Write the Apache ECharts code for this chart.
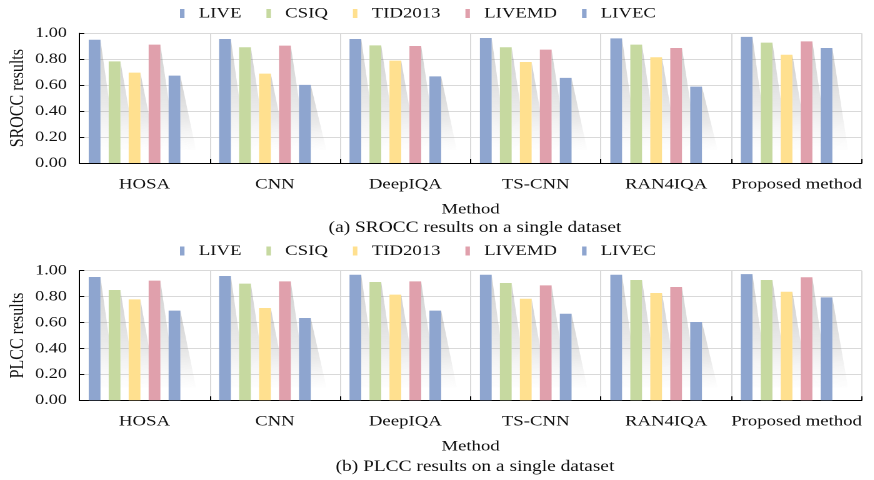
<!DOCTYPE html>
<html>
<head>
<meta charset="utf-8">
<script src="https://cdn.jsdelivr.net/npm/echarts@6/dist/echarts.min.js"></script>
<style>
  html, body { margin: 0; padding: 0; background: #fff; overflow: hidden; }
  #wrap { width: 874px; height: 480px; overflow: hidden; }
  /* the figure is set in a horizontally widened face, so the drawing is stretched on x */
  #chart { width: 699.2px; height: 480px; transform: scaleX(1.25); transform-origin: 0 0; }
</style>
</head>
<body>
<div id="wrap"><div id="chart"></div></div>
<script>
// Methods on the x axis and datasets shown as coloured bars
const categories = ['HOSA', 'CNN', 'DeepIQA', 'TS-CNN', 'RAN4IQA', 'Proposed method'];
const datasets = ['LIVE', 'CSIQ', 'TID2013', 'LIVEMD', 'LIVEC'];
const yTicks = [0, 0.2, 0.4, 0.6, 0.8, 1.0];

// SROCC on a single dataset
const sroccLIVE   = [0.950, 0.956, 0.956, 0.964, 0.961, 0.972];
const sroccCSIQ   = [0.784, 0.892, 0.907, 0.892, 0.913, 0.928];
const sroccTID    = [0.697, 0.689, 0.789, 0.779, 0.815, 0.835];
const sroccLIVEMD = [0.913, 0.905, 0.902, 0.874, 0.887, 0.938];
const sroccLIVEC  = [0.674, 0.602, 0.668, 0.656, 0.589, 0.887];

// PLCC on a single dataset
const plccLIVE   = [0.951, 0.959, 0.969, 0.969, 0.969, 0.974];
const plccCSIQ   = [0.851, 0.900, 0.913, 0.905, 0.928, 0.928];
const plccTID    = [0.779, 0.712, 0.815, 0.784, 0.828, 0.838];
const plccLIVEMD = [0.923, 0.918, 0.918, 0.887, 0.874, 0.949];
const plccLIVEC  = [0.692, 0.635, 0.692, 0.668, 0.604, 0.794];

const colors = ['#8ea5cf', '#c6d9a0', '#ffe08f', '#e0a0ac', '#8ea5cf'];

const FONT = "'Liberation Serif', 'Times New Roman', serif";
const TEXT = '#111';
const BAR_W = 9.4;
const GAP_RATIO = 0.7;
const SLOTS = 6;            // five datasets plus one empty slot on the right of each group
const SHADOW_FOOT = 0.1;    // where the cast shadow fades out
const SHADOW_RUN = 12.5;    // horizontal run of the shadow

const chart = echarts.init(document.getElementById('chart'), null,
  { renderer: 'canvas', devicePixelRatio: 2 });

const grids = [
  { left: 63.44, right: 9.6, top: 33.3, height: 129.7, outerBoundsMode: 'none', containLabel: false },
  { left: 63.44, right: 9.6, top: 270.7, height: 129.6, outerBoundsMode: 'none', containLabel: false }
];

function xAxisFor(gridIndex) {
  return {
    type: 'category', gridIndex, data: categories,
    name: 'Method', nameLocation: 'middle', nameGap: 39, nameMoveOverlap: false,
    nameTextStyle: { fontFamily: FONT, fontSize: 15, color: TEXT },
    axisLine: { lineStyle: { color: '#000', width: 1 } },
    axisTick: { show: true, inside: true, length: 4, lineStyle: { color: '#000' } },
    axisLabel: { fontFamily: FONT, fontSize: 15, color: TEXT, margin: 14, interval: 0 },
    splitLine: { show: true, interval: 0, lineStyle: { color: '#d9d9d9', width: 1 } }
  };
}

function yAxisFor(gridIndex, name) {
  return {
    type: 'value', gridIndex, min: yTicks[0], max: yTicks[yTicks.length - 1], interval: 0.2,
    name, nameLocation: 'middle', nameGap: 41, nameMoveOverlap: false,
    nameTextStyle: { fontFamily: FONT, fontSize: 16, color: TEXT },
    axisLine: { show: true, lineStyle: { color: '#000', width: 1 } },
    axisTick: { show: true, inside: true, length: 4, lineStyle: { color: '#000' } },
    axisLabel: { fontFamily: FONT, fontSize: 14.5, color: TEXT, margin: 10,
      formatter: v => v.toFixed(2) },
    splitLine: { show: true, lineStyle: { color: '#d9d9d9', width: 1 } }
  };
}

function legendFor(top) {
  return {
    data: datasets, left: 144, top, padding: 0, itemGap: 20,
    itemWidth: 10, itemHeight: 9,
    icon: 'path://M0,0h3.6v9h-3.6zM10,9h0.01v0.01h-0.01z',
    textStyle: { fontFamily: FONT, fontSize: 15, color: TEXT }
  };
}

function barsFor(gridIndex, valueLists) {
  const list = valueLists.map((vals, k) => ({
    type: 'bar', name: datasets[k], xAxisIndex: gridIndex, yAxisIndex: gridIndex,
    data: vals, barWidth: BAR_W, barGap: (GAP_RATIO * 100) + '%',
    itemStyle: { color: colors[k] }, z: 3
  }));
  // empty slot keeps each group pushed to the left of its band
  list.push({ type: 'bar', name: '_slot', xAxisIndex: gridIndex, yAxisIndex: gridIndex,
    data: [], barWidth: BAR_W, barGap: (GAP_RATIO * 100) + '%' });
  return list;
}

function shadowFor(gridIndex, valueLists) {
  const data = [];
  valueLists.forEach((vals, k) => vals.forEach((v, i) => data.push([i, v, k])));
  return {
    type: 'custom', xAxisIndex: gridIndex, yAxisIndex: gridIndex, z: 2, silent: true,
    data,
    renderItem(params, api) {
      const i = api.value(0), v = api.value(1), k = api.value(2);
      const top = api.coord([i, v]);
      const foot = api.coord([i, SHADOW_FOOT]);
      const gapW = BAR_W * GAP_RATIO;
      const total = SLOTS * BAR_W + (SLOTS - 1) * gapW;
      const xr = top[0] - total / 2 + k * (BAR_W + gapW) + BAR_W;
      return {
        type: 'polygon',
        shape: { points: [[xr, top[1]], [xr + SHADOW_RUN, foot[1]], [xr, foot[1]]] },
        style: {
          fill: new echarts.graphic.LinearGradient(0, 0, 0.4, 1, [
            { offset: 0, color: 'rgba(110,110,110,0.34)' },
            { offset: 0.6, color: 'rgba(150,150,150,0.2)' },
            { offset: 1, color: 'rgba(200,200,200,0.03)' }
          ])
        }
      };
    }
  };
}

const sroccLists = [sroccLIVE, sroccCSIQ, sroccTID, sroccLIVEMD, sroccLIVEC];
const plccLists = [plccLIVE, plccCSIQ, plccTID, plccLIVEMD, plccLIVEC];

chart.setOption({
  animation: false,
  grid: grids,
  legend: [legendFor(6), legendFor(243.5)],
  xAxis: [xAxisFor(0), xAxisFor(1)],
  yAxis: [yAxisFor(0, 'SROCC results'), yAxisFor(1, 'PLCC results')],
  graphic: [
    { type: 'text', x: 380, y: 228, style: { text: '(a) SROCC results on a single dataset',
      font: "15.5px 'Liberation Serif', serif", fill: TEXT, textAlign: 'center', textVerticalAlign: 'middle' } },
    { type: 'text', x: 380, y: 467, style: { text: '(b) PLCC results on a single dataset',
      font: "15.5px 'Liberation Serif', serif", fill: TEXT, textAlign: 'center', textVerticalAlign: 'middle' } }
  ],
  series: [
    shadowFor(0, sroccLists),
    ...barsFor(0, sroccLists),
    shadowFor(1, plccLists),
    ...barsFor(1, plccLists)
  ]
});
</script>
</body>
</html>
